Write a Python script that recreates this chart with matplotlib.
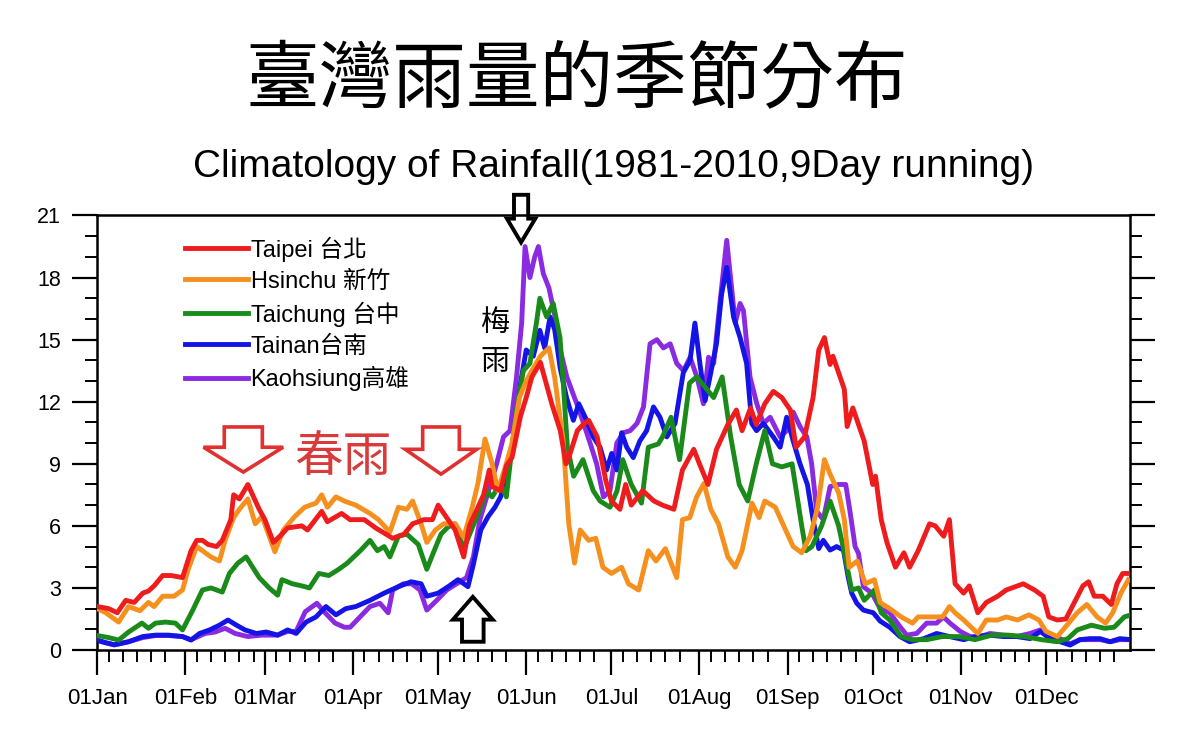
import matplotlib
matplotlib.use('Agg')
import matplotlib.pyplot as plt
from matplotlib.patches import FancyArrow

# 9-day running mean of daily rainfall (mm) as (day of year, value)
taipei = [(0, 2.1), (4, 2.0), (7, 1.8), (10, 2.4), (13, 2.3), (16, 2.75), (18, 2.85), (20, 3.1),
          (23, 3.6), (26, 3.6), (30, 3.5), (33, 4.8), (35, 5.3), (37, 5.3), (39, 5.1), (42, 5.0),
          (44, 5.3), (47, 6.3), (48, 7.5), (50, 7.3), (53, 8.0), (55, 7.4), (57, 6.8), (59, 6.3),
          (62, 5.2), (65, 5.6), (67, 5.9), (72, 6.0), (74, 5.8), (79, 6.7), (81, 6.2), (86, 6.6),
          (89, 6.3), (94, 6.3), (98, 5.9), (104, 5.4), (108, 5.6), (111, 6.1), (115, 6.3), (118, 6.3),
          (120, 7.0), (123, 6.4), (126, 5.8), (129, 4.5), (131, 6.0), (134, 6.9), (136, 7.5), (138, 8.7),
          (139, 7.9), (142, 7.7), (144, 8.9), (146, 9.3), (149, 11.3), (151, 12.2), (153, 13.2), (156, 13.9),
          (158, 12.9), (160, 11.9), (163, 10.6), (165, 9.0), (166, 9.3), (169, 10.6), (171, 10.9), (173, 11.1),
          (176, 10.3), (179, 8.2), (181, 7.2), (184, 6.8), (186, 8.0), (188, 7.0), (192, 7.7), (196, 7.2),
          (199, 7.0), (203, 6.8), (206, 8.7), (210, 9.7), (212, 9.0), (215, 8.0), (218, 9.7), (222, 10.9),
          (225, 11.6), (227, 10.6), (230, 11.7), (232, 10.9), (235, 11.9), (238, 12.5), (241, 12.2), (244, 11.6),
          (246, 9.8), (249, 10.3), (252, 12.2), (254, 14.5), (256, 15.1), (258, 13.8), (259, 14.2), (263, 12.6),
          (264, 10.8), (266, 11.7), (270, 10.1), (273, 8.0), (274, 8.4), (276, 6.3), (278, 5.2), (281, 4.0),
          (284, 4.7), (286, 4.0), (289, 4.8), (293, 6.1), (295, 6.0), (298, 5.5), (300, 6.3), (302, 3.2),
          (305, 2.75), (307, 3.1), (310, 1.8), (313, 2.3), (317, 2.6), (320, 2.9), (324, 3.1), (326, 3.2),
          (330, 2.9), (333, 2.6), (335, 1.6), (338, 1.45), (341, 1.5), (344, 2.3), (347, 3.1), (349, 3.3),
          (351, 2.6), (354, 2.6), (357, 2.2), (359, 3.2), (361, 3.7), (364, 3.7)]

hsinchu = [(0, 2.0), (3, 1.8), (7.5, 1.35), (11, 2.1), (15, 1.9), (18, 2.3), (20, 2.1), (23, 2.6),
           (27, 2.6), (30, 2.9), (32, 3.9), (35, 5.0), (37, 4.8), (40, 4.5), (43, 4.3), (45, 5.3),
           (48, 6.4), (50, 6.8), (53, 7.3), (55.6, 6.1), (58, 6.45), (62.5, 4.75), (65.5, 5.8), (69.5, 6.45),
           (73, 6.9), (77, 7.1), (79, 7.5), (81, 6.9), (84, 7.4), (87, 7.2), (91, 7.0), (96, 6.6),
           (99, 6.3), (103, 5.7), (106, 6.9), (109, 6.8), (111, 7.2), (114, 6.1), (116, 5.2), (119, 5.8),
           (122, 6.1), (126, 6.1), (129, 5.45), (132, 6.9), (134, 8.05), (136.5, 10.2), (139, 9.0), (141, 7.7),
           (144, 9.0), (146, 10.0), (148.6, 12.2), (151, 13.0), (153, 13.5), (156, 14.2), (159, 14.6), (161, 13.2),
           (164, 10.1), (166, 6.1), (168, 4.2), (170, 5.8), (173, 5.3), (175.5, 5.4), (178, 4.0), (181, 3.7),
           (184.6, 4.0), (187, 3.2), (190.6, 2.9), (194, 4.8), (196.7, 4.3), (200, 4.9), (204, 3.5), (206, 6.3),
           (208.6, 6.4), (211, 7.4), (213.6, 8.05), (216, 6.8), (218.7, 6.1), (222, 4.5), (224.6, 4.0), (227, 4.8),
           (230.5, 7.1), (233, 6.4), (235, 7.2), (238.7, 6.9), (242, 5.9), (245, 5.0), (248, 4.7), (251, 5.5),
           (253.6, 6.9), (256, 9.2), (258, 8.5), (261, 7.6), (263, 6.3), (264.7, 4.0), (267.6, 4.3), (270.4, 3.2),
           (273.6, 3.4), (275.6, 2.3), (279, 2.0), (283, 1.6), (287, 1.3), (289, 1.6), (294, 1.6), (297.6, 1.6),
           (300, 2.1), (302, 1.8), (305, 1.45), (310, 0.8), (313, 1.45), (317, 1.45), (320, 1.6), (324, 1.45),
           (328, 1.7), (331.5, 1.45), (334, 0.9), (338, 0.65), (342, 1.3), (345, 1.8), (348.4, 2.2), (352, 1.6),
           (355, 1.3), (357.5, 1.8), (360.4, 2.75), (363, 3.4)]

taichung = [(0, 0.7), (4, 0.6), (7.5, 0.48), (11, 0.87), (15.7, 1.3), (18, 1.05), (20.5, 1.3), (24, 1.35),
            (27.5, 1.3), (30, 0.97), (33.5, 1.9), (37, 2.9), (40, 3.0), (44, 2.8), (46.5, 3.7), (49.5, 4.2),
            (52.4, 4.5), (54.7, 4.0), (57, 3.5), (60.5, 3.0), (63.5, 2.65), (65, 3.4), (68.7, 3.2), (72, 3.1),
            (74.7, 3.0), (78, 3.7), (81.5, 3.6), (85, 3.9), (88, 4.2), (92.6, 4.8), (96, 5.3), (98.6, 4.8),
            (101, 5.0), (103, 4.5), (106, 5.5), (109, 5.6), (113, 5.1), (116, 3.9), (118.6, 4.8), (121, 5.6),
            (123.5, 5.95), (126, 6.1), (129, 4.9), (132.6, 6.1), (135, 6.9), (137, 7.7), (139, 7.4), (142, 8.05),
            (144, 7.4), (146, 9.8), (147.6, 11.6), (150, 13.5), (152.3, 13.85), (154.7, 15.9), (155.8, 17.0),
            (158.2, 16.1), (160.5, 16.75), (162.9, 15.1), (164, 13.0), (165.5, 9.8), (167.7, 8.4), (171, 9.2),
            (174.6, 7.7), (177, 7.2), (180.5, 6.9), (183, 7.7), (185, 9.2), (188, 8.0), (191.6, 7.1), (194, 9.8),
            (197.5, 9.96), (199, 10.3), (202, 11.25), (205, 9.2), (208.5, 12.9), (211, 13.2), (214, 12.7),
            (217, 12.2), (220, 13.2), (223, 10.3), (226, 8.0), (229, 7.2), (232, 9.0), (235, 10.6), (237.7, 9.0),
            (241, 8.85), (244.6, 9.0), (248, 6.0), (249.5, 4.8), (251.6, 5.0), (255, 6.0), (258, 7.2), (261, 6.0),
            (263, 4.7), (265.6, 2.9), (268, 3.0), (270, 2.4), (273.6, 2.9), (276, 1.8), (279, 1.45), (283, 0.65),
            (287, 0.5), (292, 0.5), (297.5, 0.65), (303.5, 0.65), (309, 0.5), (315, 0.72), (320.6, 0.72),
            (326.6, 0.65), (332.4, 0.5), (338, 0.4), (341.7, 0.55), (345, 0.97), (350, 1.2), (354.6, 1.05),
            (358, 1.1), (361.6, 1.6), (364, 1.7)]

tainan = [(0, 0.48), (3, 0.35), (6, 0.25), (11, 0.4), (16, 0.65), (20.5, 0.72), (25, 0.72), (30, 0.65),
          (33, 0.48), (36, 0.8), (39.5, 0.97), (43, 1.2), (46, 1.45), (49, 1.2), (52, 0.97), (56, 0.8),
          (59.5, 0.87), (63.5, 0.72), (67, 0.97), (70, 0.8), (73.5, 1.35), (77, 1.6), (80.5, 2.1), (84, 1.7),
          (87.5, 2.0), (91, 2.1), (96, 2.4), (101, 2.75), (106, 3.06), (110.5, 3.3), (114, 3.2), (116, 2.6),
          (120, 2.75), (123.5, 3.06), (127, 3.4), (130.5, 3.06), (132.5, 4.2), (135, 5.8), (137.6, 6.45),
          (140, 6.9), (142, 7.4), (144.6, 8.7), (147, 10.6), (149, 12.9), (151, 14.5), (153.5, 14.2),
          (155.8, 15.45), (157.5, 14.6), (159.4, 16.1), (161, 15.5), (163, 13.6), (165.2, 12.2), (167.6, 11.1),
          (169.5, 11.9), (172.3, 11.1), (174.6, 10.3), (177, 9.8), (179.3, 8.7), (181.1, 9.5), (182.9, 8.7),
          (184.6, 10.5), (186.4, 9.8), (188.7, 9.3), (191, 10.1), (193.4, 10.6), (195.8, 11.75), (198.1, 11.25),
          (200.5, 10.3), (203.4, 10.95), (206.3, 13.4), (208.7, 14.0), (210.4, 15.8), (212.2, 13.8), (214, 12.05),
          (215.7, 13.2), (218, 14.8), (219.8, 17.2), (221.6, 18.5), (224, 16.1), (226.3, 15.1), (228.6, 13.85),
          (230.4, 10.95), (232.1, 10.6), (234.5, 10.95), (238, 10.3), (240.4, 9.8), (242.7, 11.25), (245, 10.1),
          (247.4, 9.0), (250, 8.0), (252, 6.3), (254, 4.9), (255.6, 5.3), (258, 4.83), (260.3, 5.0),
          (262.7, 4.83), (264.4, 3.5), (265.6, 2.75), (267.4, 2.26), (269.7, 1.93), (273.2, 1.8), (275.6, 1.4),
          (279, 1.1), (282.6, 0.65), (286, 0.4), (291, 0.55), (295.5, 0.8), (300, 0.65), (305, 0.5),
          (309.6, 0.65), (314, 0.72), (319, 0.65), (323.7, 0.65), (328.4, 0.55), (332, 0.9), (335.5, 0.55),
          (339, 0.4), (342.5, 0.24), (346, 0.5), (349.5, 0.55), (353, 0.55), (356.6, 0.4), (360, 0.55), (364, 0.5)]

kaohsiung = [(0, 0.45), (3, 0.35), (6, 0.25), (11, 0.4), (16, 0.6), (20.5, 0.7), (25, 0.7), (30, 0.65),
             (33, 0.5), (38, 0.8), (41.5, 0.87), (45, 1.05), (48.5, 0.8), (53, 0.65), (58, 0.72), (63.5, 0.72),
             (67, 0.9), (70, 0.9), (73.2, 1.85), (77.3, 2.26), (80.2, 1.8), (83.7, 1.3), (87, 1.1), (89, 1.1),
             (92.5, 1.6), (96, 2.1), (99.5, 2.26), (102.4, 1.8), (104, 2.9), (107.7, 3.2), (110.7, 3.2),
             (113.6, 2.9), (116, 1.93), (119.5, 2.4), (123, 2.9), (126.5, 3.2), (130, 3.5), (132.4, 4.5),
             (134.7, 6.3), (138.2, 7.9), (140.6, 9.0), (143, 10.3), (145.3, 10.6), (147.6, 13.2), (149.4, 15.8),
             (150.6, 19.5), (152.3, 18.0), (154, 19.0), (155.3, 19.5), (157, 18.2), (159, 17.5), (161, 16.2),
             (163, 14.5), (165.3, 13.2), (168.8, 11.9), (171.1, 11.0), (173.5, 10.0), (175.8, 9.0), (178.2, 7.4),
             (180.5, 7.7), (182.9, 10.0), (185.2, 10.5), (187.6, 10.6), (190, 10.95), (192.3, 11.75),
             (194.6, 14.8), (197, 15.0), (199.3, 14.6), (201.7, 14.8), (204, 13.85), (206.4, 13.5), (208.7, 14.15),
             (211.1, 13.2), (213.4, 11.9), (215.2, 14.15), (217, 13.85), (219.3, 16.9), (221.6, 19.8),
             (223.4, 17.4), (224.6, 15.8), (226.3, 16.75), (227.5, 16.4), (229.8, 13.2), (232.2, 11.9),
             (234.5, 10.95), (236.9, 11.25), (240.4, 10.3), (242.7, 10.6), (245, 11.5), (247.4, 10.8),
             (249.8, 10.3), (251.5, 9.0), (253.3, 6.7), (255.6, 6.3), (258, 7.9), (261, 8.0), (263.5, 8.0),
             (265, 6.7), (266.8, 5.0), (268, 4.67), (269.7, 3.06), (272.7, 2.75), (275.6, 2.0), (279, 1.8),
             (282.6, 1.13), (285, 0.72), (288.5, 0.8), (292, 1.3), (295.5, 1.3), (297.9, 1.6), (300.2, 1.3),
             (303.8, 0.9), (307.3, 0.65), (310.8, 0.65), (314.3, 0.8), (319, 0.72), (323.7, 0.65), (328.4, 0.8),
             (332, 0.97), (335.5, 0.65), (339, 0.55), (342.5, 0.3), (346, 0.5), (349.5, 0.5), (353, 0.5),
             (356.6, 0.4), (360, 0.5), (364, 0.5)]

station_labels = ['Taipei 台北', 'Hsinchu 新竹', 'Taichung 台中', 'Tainan台南', 'Kaohsiung高雄']
station_colors = ['#ee1c1c', '#f5901e', '#1a8a1a', '#1414e6', '#8a2be2']
month_names = ['Jan', 'Feb', 'Mar', 'Apr', 'May', 'Jun', 'Jul', 'Aug', 'Sep', 'Oct', 'Nov', 'Dec']
month_len = [31, 28, 31, 30, 31, 30, 31, 31, 30, 31, 30, 31]

mix_font = ['Liberation Sans', 'Noto Sans CJK TC']
cjk_font = ['Noto Sans CJK TC', 'DejaVu Sans']

fig = plt.figure(figsize=(12, 7.48), dpi=100)
ax = fig.add_axes([0.0811, 0.1310, 0.8606, 0.5809])

series = [taipei, hsinchu, taichung, tainan, kaohsiung]
zorders = [6, 5, 4, 3, 2]
for data, lab, col, zo in zip(series, station_labels, station_colors, zorders):
    days = [p[0] for p in data]
    vals = [p[1] for p in data]
    ax.plot(days, vals, color=col, lw=3.5, label=lab, zorder=zo, solid_joinstyle='round')

# axes / ticks (NCL-like: outward ticks left, right, bottom)
month_start = [sum(month_len[:i]) for i in range(12)]
minor_days = [s + k for s in month_start for k in (4, 9, 14, 19, 24)]
ax.set_xlim(0, 363.6)
ax.set_ylim(0, 21)
ax.set_xticks(month_start)
ax.set_xticklabels(['01' + m for m in month_names])
ax.set_xticks(minor_days, minor=True)
ax.set_yticks(range(0, 22, 3))
ax.set_yticks(range(0, 22), minor=True)

for s in ax.spines.values():
    s.set_linewidth(1.8)
ax.tick_params(axis='both', which='major', direction='out', length=18, width=1.6,
               labelsize=15.5, pad=8)
ax.tick_params(axis='both', which='minor', direction='out', length=8.5, width=1.4)
ax.tick_params(axis='y', right=True, which='both')
ax.tick_params(axis='x', top=False, which='both')
ax.tick_params(axis='x', which='major', labelsize=16, pad=9)
for t in ax.get_xticklabels() + ax.get_yticklabels():
    t.set_family(mix_font)

leg = ax.legend(loc='upper left', bbox_to_anchor=(0.085, 0.952), frameon=False,
                prop={'family': mix_font, 'size': 17}, handlelength=2.67,
                handletextpad=0.1, labelspacing=0.37, borderpad=0, borderaxespad=0)
for h in leg.get_lines():
    h.set_linewidth(3.5)

# annotations
ax.text(140, 14.85, '梅\n雨', family=cjk_font, fontsize=21, ha='center', va='center',
        linespacing=1.4, color='black', zorder=8)
ax.text(86.5, 9.3, '春雨', family=cjk_font, fontsize=35, ha='center', va='center',
        color='#d93a3a', zorder=8)

red_arrows = [(51.4, 10.78, 8.6, 13.4, 28.0), (121.0, 10.78, 8.5, 12.9, 25.2)]
for cx, top, tip, w, hw in red_arrows:
    ax.add_patch(FancyArrow(cx, top, 0, tip - top, width=w, head_width=hw, head_length=1.2,
                            length_includes_head=True, facecolor='none', edgecolor='#e03030',
                            lw=2.6, joinstyle='miter', zorder=8))

black_arrows = [(149.2, 22.0, 19.7, 5.0, 10.0, 1.15), (132.2, 0.4, 2.57, 7.6, 14.0, 1.1)]
for cx, start, tip, w, hw, hl in black_arrows:
    ax.add_patch(FancyArrow(cx, start, 0, tip - start, width=w, head_width=hw, head_length=hl,
                            length_includes_head=True, facecolor='none', edgecolor='black',
                            lw=2.8, joinstyle='miter', zorder=9, clip_on=False))

fig.text(0.481, 0.892, '臺灣雨量的季節分布', family=cjk_font, fontsize=53,
         ha='center', va='center')
fig.text(0.5114, 0.777, 'Climatology of Rainfall(1981-2010,9Day running)',
         family=mix_font, fontsize=28, ha='center', va='center')

fig.savefig('out.png', dpi=100, facecolor='white')
